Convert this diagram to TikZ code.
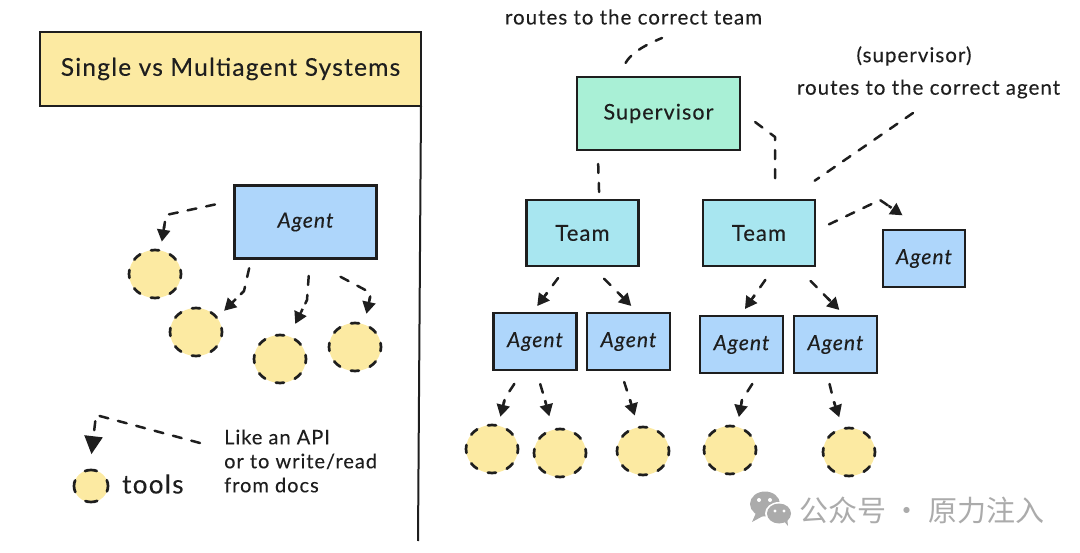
\documentclass[tikz,border=0pt]{standalone}
\usepackage{fontspec}
\setmainfont[LetterSpace=5,FakeBold=0.25]{Lato}
\newfontfamily\cjkfont{Noto Sans CJK SC}
\usetikzlibrary{arrows.meta,shapes.geometric}
\definecolor{ink}{HTML}{1E1E1E}
\definecolor{yel}{HTML}{FCEAA2}
\definecolor{blu}{HTML}{AED6FB}
\definecolor{grn}{HTML}{A9F0D6}
\definecolor{cya}{HTML}{A8E6F0}
\definecolor{wm}{HTML}{ABABAB}
\tikzset{
  box/.style={draw=ink,line width=2.1pt,inner sep=0pt,outer sep=0pt,align=center,text=ink},
  bluebox/.style={box,fill=blu,font=\fontsize{21}{24}\selectfont\itshape},
  smallagent/.style={bluebox,minimum width=83pt,minimum height=57pt},
  teambox/.style={box,fill=cya,minimum width=112pt,minimum height=66pt,font=\fontsize{22}{26}\selectfont},
  tool/.style={ellipse,draw=ink,fill=yel,line width=2.7pt,line cap=round,dash pattern=on 8pt off 11.6pt,dash phase=4pt,inner sep=0pt,outer sep=0pt},
  bigtool/.style={tool,minimum width=52pt,minimum height=48pt},
  label/.style={text=ink,inner sep=0pt,font=\fontsize{20.5}{24}\selectfont},
  conn/.style={draw=ink,line width=2.5pt,line cap=round,dash pattern=on 9pt off 10pt,line join=round},
  arr/.style={conn,-{Rectangle[length=6pt,width=2.5pt]Triangle[length=12pt,width=13pt]}},
  bigarr/.style={conn,-{Triangle[length=18pt,width=18pt]}}
}
\begin{document}
\begin{tikzpicture}[x=1pt,y=-1pt]
\useasboundingbox (0,0) rectangle (1080,553);

% left panel
\node[box,fill=yel,minimum width=381pt,minimum height=74pt,font=\fontsize{24.5}{30}\selectfont] (title) at (230.5,69) {Single vs Multiagent Systems};
\coordinate (panelend) at (418,541);
\draw[ink,line width=2pt] (title.south east) -- (panelend);

\node[bluebox,minimum width=142pt,minimum height=73pt] (agent) at (305.5,222) {Agent};
\node[bigtool] (t1) at (155,274) {};
\node[bigtool] (t2) at (196,332) {};
\node[bigtool] (t3) at (280,359) {};
\node[bigtool] (t4) at (355,347) {};
\node[tool,minimum width=34pt,minimum height=32pt,dash pattern=on 12pt off 14pt,dash phase=6pt] (legend) at (91,486) {};
\node[label,anchor=west,font=\fontsize{26}{30}\selectfont] (toolstext) at (122,484) {tools};
\node[label,anchor=west,align=left,font=\fontsize{20}{24}\selectfont] (like) at (224,461) {Like an API\\or to write/read\\from docs};

\coordinate (w1) at (166,215);
\coordinate (w2) at (244,291);
\coordinate (w3) at (307,300);
\coordinate (w4) at (371,293);
\coordinate (lstart) at (200,443);
\coordinate (lw) at (96,415);
\draw[arr,shorten <=20pt,shorten >=9pt] (agent.163.5) -- (w1) -- (t1.77);
\draw[arr,shorten <=10pt,shorten >=10pt] (agent.214.6) -- (w2) -- (t2.34);
\draw[arr,shorten <=17.5pt,shorten >=14pt] (agent.-83.7) -- (w3) -- (t3.68.6);
\draw[arr,shorten <=39pt,shorten >=11pt] (agent.-89) -- (w4) -- (t4.68);
\draw[bigarr,shorten >=16pt] (lstart) -- (lw) -- (legend.95);

% right panel
\node[box,fill=grn,minimum width=163pt,minimum height=73pt,font=\fontsize{21.5}{26}\selectfont] (sup) at (658.5,113.5) {Supervisor};
\node[teambox] (team1) at (582.5,233) {Team};
\node[teambox] (team2) at (759,233) {Team};
\node[bluebox,minimum width=82pt,minimum height=57pt] (a0) at (924,258.5) {Agent};
\node[smallagent] (a1) at (535,341.5) {Agent};
\node[smallagent] (a2) at (628.5,341.5) {Agent};
\node[smallagent] (a3) at (741.5,344.5) {Agent};
\node[smallagent] (a4) at (835.5,344.5) {Agent};
\node[bigtool] (c1) at (492,449) {};
\node[bigtool] (c2) at (560,453) {};
\node[bigtool] (c3) at (643,451) {};
\node[bigtool] (c4) at (730,450) {};
\node[bigtool] (c5) at (849,452) {};
\node[label] (lab1) at (633.5,17) {routes to the correct team};
\node[label] (lab2) at (914,56) {(supervisor)};
\node[label] (lab3) at (928.5,89) {routes to the correct agent};

\coordinate (k1) at (662,38);
\coordinate (k2) at (913,113);
\coordinate (w5) at (775,137);
\coordinate (w6) at (880,200);
\coordinate (w7) at (505,398);
\coordinate (w8) at (545,400);
\coordinate (w9) at (630,400);
\coordinate (w10) at (742,400);
\coordinate (w11) at (834,402);

\draw[conn,shorten <=16pt] (sup.138.7) .. controls (631,53) and (645,45) .. (k1);
\draw[conn,shorten <=14pt,shorten >=8pt] (sup.211.5) -- (team1.63.4);
\draw[conn,shorten <=19pt,shorten >=17pt] (sup.2) -- (w5) -- (team2.64);
\draw[conn,shorten >=34pt] (k2) -- (team2.50.7);
\draw[arr,shorten <=15.5pt,shorten >=26pt] (team2.2.5) -- (w6) -- (a0.north);
\draw[arr,shorten <=15pt,shorten >=8.7pt] (team1.-115) -- (a1.96.5);
\draw[arr,shorten <=18pt,shorten >=10pt] (team1.-75.6) -- (a2.71.6);
\draw[arr,shorten <=17pt,shorten >=8.6pt] (team2.-64.6) -- (a3.93);
\draw[arr,shorten <=21pt,shorten >=8.5pt] (team2.-42.5) -- (a4.71.6);
\draw[arr,shorten <=16.6pt,shorten >=9.3pt] (a1.-112.8) -- (w7) -- (c1.75);
\draw[arr,shorten <=14.7pt,shorten >=14pt] (a1.-88.8) -- (w8) -- (c2.107);
\draw[arr,shorten <=12.6pt,shorten >=12.4pt] (a2.-106.6) -- (w9) -- (c3.101.8);
\draw[arr,shorten <=13pt,shorten >=10pt] (a3.-58.4) -- (w10) -- (c4.73.4);
\draw[arr,shorten <=11.3pt,shorten >=12pt] (a4.-107.5) -- (w11) -- (c5.104);

% watermark
\fill[wm] (765,504) ellipse [x radius=15pt,y radius=12.5pt];
\fill[wm] (756,513) -- (752,522) -- (763,516) -- cycle;
\fill[white] (779,513.5) ellipse [x radius=14pt,y radius=11.5pt];
\fill[wm] (779,513.5) ellipse [x radius=12pt,y radius=10pt];
\fill[wm] (783,520) -- (788,526) -- (787,517) -- cycle;
\fill[white] (759,500) circle (2pt) (770,500) circle (2pt) (775,511) circle (1.7pt) (784,511) circle (1.7pt);
\node[inner sep=0pt,anchor=west,text=wm,font=\cjkfont\fontsize{29}{32}\selectfont] (mark) at (799,510) {公众号 · 原力注入};
\end{tikzpicture}
\end{document}
